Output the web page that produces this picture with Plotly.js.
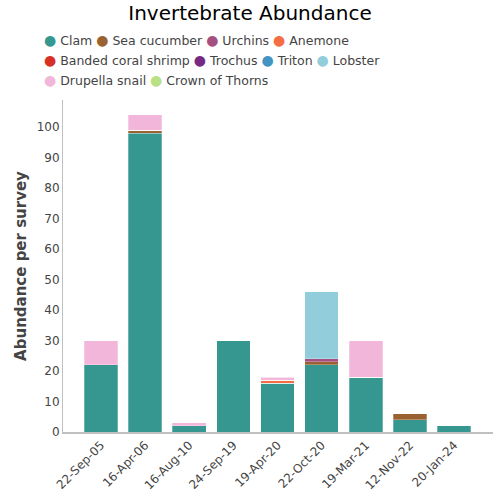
<!DOCTYPE html>
<html><head><meta charset="utf-8">
<script src="https://cdn.plot.ly/plotly-3.0.1.min.js"></script>
<style>html,body{margin:0;padding:0;background:#fff}#chart{width:500px;height:500px}</style>
</head><body><div id="chart"></div>
<script>
const categories = ['22-Sep-05','16-Apr-06','16-Aug-10','24-Sep-19','19-Apr-20','22-Oct-20','19-Mar-21','12-Nov-22','20-Jan-24'];
const seriesNames = ['Clam','Sea cucumber','Urchins','Anemone','Banded coral shrimp','Trochus','Triton','Lobster','Drupella snail','Crown of Thorns'];
const seriesColors = ['#35978f','#9a6231','#a6507f','#f46d43','#d73027','#762a83','#4393c3','#92cddc','#f1b6da','#b8e186'];
const clam          = [22,98,2,30,16,22,18,4,2];
const seaCucumber   = [0,1,0,0,0,1,0,2,0];
const urchins       = [0,0,0,0,0,1,0,0,0];
const anemone       = [0,0,0,0,1,0,0,0,0];
const bandedShrimp  = [0,0,0,0,0,0,0,0,0];
const trochus       = [0,0,0,0,0,0,0,0,0];
const triton        = [0,0,0,0,0,0,0,0,0];
const lobster       = [0,0,0,0,0,22,0,0,0];
const drupella      = [8,5,1,0,1,0,12,0,0];
const crownOfThorns = [0,0,0,0,0,0,0,0,0];
const seriesValues = [clam,seaCucumber,urchins,anemone,bandedShrimp,trochus,triton,lobster,drupella,crownOfThorns];
const legendRows = [[0,1,2,3],[4,5,6,7],[8,9]];

const FONT = 'DejaVu Sans, sans-serif';
const traces = seriesNames.map((n,i)=>({
  type:'bar', name:n, x:categories, y:seriesValues[i],
  marker:{color:seriesColors[i], line:{color:'rgba(255,255,255,0.45)', width:0.6}},
  showlegend:false, hovertemplate:'%{x}: %{y}<extra>'+n+'</extra>'
}));

const annotations = legendRows.map((row,r)=>({
  xref:'paper', yref:'paper', x:(42-63)/430, y:1 + (100-(40+r*20))/332,
  xanchor:'left', yanchor:'middle', showarrow:false, align:'left',
  font:{family:FONT, size:12.5, color:'#444'},
  text: row.map(i=>'<span style="color:'+seriesColors[i]+';font-size:14px">●</span> '+seriesNames[i]).join(' ')
}));

const layout = {
  width:500, height:500,
  margin:{l:63, r:7, t:100, b:68},
  paper_bgcolor:'#fff', plot_bgcolor:'#fff',
  barmode:'stack', bargap:0.24,
  font:{family:FONT, color:'#444', size:12},
  title:{text:'Invertebrate Abundance', x:0.5, xanchor:'center', y:0.975, yanchor:'middle', font:{family:FONT, size:20, color:'#000'}},
  showlegend:false,
  xaxis:{type:'category', range:[-0.86,8.88], showline:true, linecolor:'#c0c0c0', linewidth:1.5, ticks:'', tickangle:-45, tickfont:{size:12, color:'#444'}, showgrid:false, zeroline:false},
  yaxis:{range:[0,108.9], dtick:10, showline:true, linecolor:'#c0c0c0', linewidth:1, ticks:'', showgrid:false, zeroline:false, tickfont:{size:12, color:'#444'},
    title:{text:'Abundance per survey', font:{size:15, color:'#444', weight:'bold'}, standoff:6}},
  annotations: annotations
};
Plotly.newPlot('chart', traces, layout, {displayModeBar:false, staticPlot:true});
</script></body></html>
